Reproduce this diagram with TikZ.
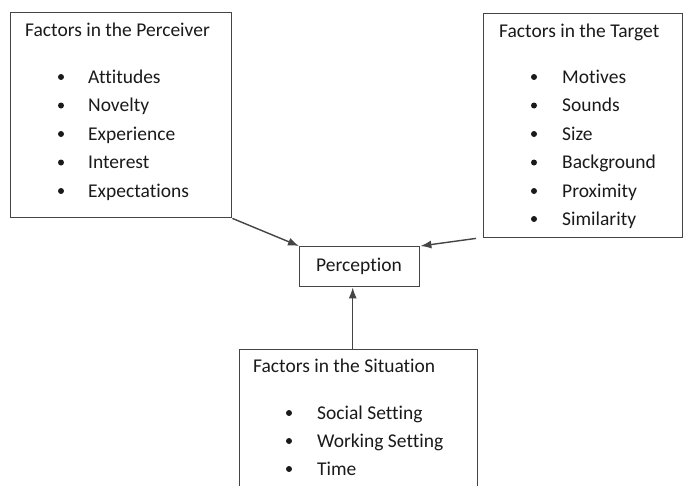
\documentclass[tikz,border=0pt]{standalone}
\usepackage{fontspec}
\setmainfont{Carlito}[Ligatures=NoCommon]
\usetikzlibrary{arrows.meta}
\definecolor{linegray}{HTML}{454545}
\definecolor{txt}{HTML}{1A1A1A}
\begin{document}
\begin{tikzpicture}[x=1pt,y=-1pt,
  box/.style={draw=linegray,line width=1.4pt,rectangle,anchor=north west,inner sep=0pt},
  lbl/.style={anchor=base west,inner sep=0pt,text=txt,font=\fontsize{19.5}{22}\selectfont},
  bul/.style={circle,fill=txt,inner sep=0pt,minimum size=6pt},
  arr/.style={draw=linegray,line width=1.4pt,-{Latex[length=11pt,width=8pt]}}]
\clip (0,0) rectangle (684,485);
\fill[white] (0,0) rectangle (684,485);
% boxes
\node[box,minimum width=221pt,minimum height=205pt] (b1) at (10,12) {};
\node[box,minimum width=199pt,minimum height=224pt] (b2) at (483,13) {};
\node[box,minimum width=120pt,minimum height=40pt] (perc) at (299,246) {};
\node[box,minimum width=238pt,minimum height=170pt] (b3) at (239,349) {};
% perception text
\node[inner sep=0pt,text=txt,font=\fontsize{19.5}{22}\selectfont] (ptxt) at (359,266) {Perception};
% box 1
\node[lbl] (t1) at (25,36.5) {Factors in the Perceiver};
\node[bul] (p1) at (61,77) {}; \node[lbl] (p1t) at (88,83) {Attitudes};
\node[bul] (p2) at (61,105.5) {}; \node[lbl] (p2t) at (88,111.5) {Novelty};
\node[bul] (p3) at (61,134) {}; \node[lbl] (p3t) at (88,140) {Experience};
\node[bul] (p4) at (61,162.5) {}; \node[lbl] (p4t) at (88,168.5) {Interest};
\node[bul] (p5) at (61,191) {}; \node[lbl] (p5t) at (88,197) {Expectations};
% box 2
\node[lbl] (t2) at (499,37.5) {Factors in the Target};
\node[bul] (q1) at (534,77) {}; \node[lbl] (q1t) at (562,83) {Motives};
\node[bul] (q2) at (534,105.5) {}; \node[lbl] (q2t) at (562,111.5) {Sounds};
\node[bul] (q3) at (534,134) {}; \node[lbl] (q3t) at (562,140) {Size};
\node[bul] (q4) at (534,162.5) {}; \node[lbl] (q4t) at (562,168.5) {Background};
\node[bul] (q5) at (534,191) {}; \node[lbl] (q5t) at (562,197) {Proximity};
\node[bul] (q6) at (534,219) {}; \node[lbl] (q6t) at (562,225) {Similarity};
% box 3
\node[lbl] (t3) at (253,372.5) {Factors in the Situation};
\node[bul] (r1) at (289,413) {}; \node[lbl] (r1t) at (317,419) {Social Setting};
\node[bul] (r2) at (289,441) {}; \node[lbl] (r2t) at (317,447) {Working Setting};
\node[bul] (r3) at (289,469) {}; \node[lbl] (r3t) at (317,475) {Time};
% arrows
\coordinate (s2) at ([xshift=-7pt]b2.south west);
\coordinate (pb) at ([xshift=-7pt]perc.south);
\draw[arr] (b1.south east) -- (perc.north west);
\draw[arr] (s2) -- (perc.north east);
\draw[arr] (pb |- b3.north) -- (pb);
\end{tikzpicture}
\end{document}
